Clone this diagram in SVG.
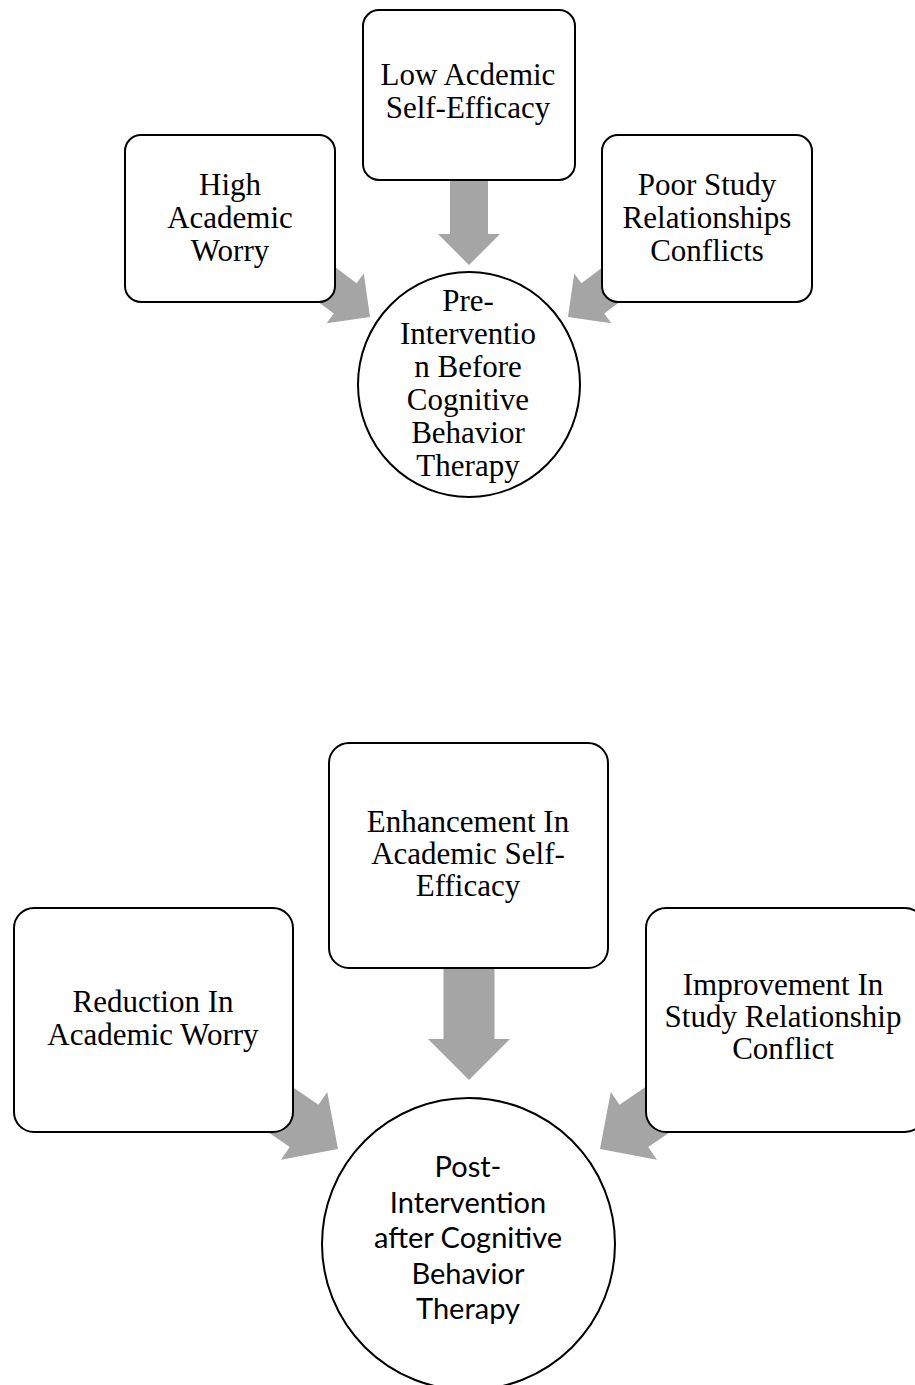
<svg xmlns="http://www.w3.org/2000/svg" width="915" height="1385" viewBox="0 0 915 1385">
<style>
.box{fill:#fff;stroke:#000;stroke-width:2}
.arrow{fill:#a5a5a5;stroke:none}
.serif{font-family:"Liberation Serif","Times New Roman",serif;font-size:31px;fill:#000;text-anchor:middle}
.sans{font-family:Lato,"Liberation Sans",sans-serif;font-size:29px;fill:#000;text-anchor:middle}
</style>
<defs>
<polygon id="arrS" points="0,0 -31,-31 -31,-19 -85,-19 -85,19 -31,19 -31,31"/>
<polygon id="arrL" points="0,0 -41,-41 -41,-25.5 -112,-25.5 -112,25.5 -41,25.5 -41,41"/>
</defs>
<rect width="915" height="1385" fill="#fff"/>
<g id="connectors" class="arrow">
<use href="#arrS" transform="translate(469,265) rotate(90)"/>
<use href="#arrS" transform="translate(370,317) rotate(36.87)"/>
<use href="#arrS" transform="translate(568,317) rotate(143.13)"/>
<use href="#arrL" transform="translate(469,1080) rotate(90)"/>
<use href="#arrL" transform="translate(338,1149) rotate(34.3)"/>
<use href="#arrL" transform="translate(600,1149) rotate(145.7)"/>
</g>
<g id="low-self-efficacy">
<rect class="box" x="363" y="10" width="212" height="170" rx="16"/>
<text class="serif"><tspan x="468" y="85">Low Acdemic</tspan><tspan x="468" y="118">Self-Efficacy</tspan></text>
</g>
<g id="high-worry">
<rect class="box" x="125" y="135" width="210" height="167" rx="16"/>
<text class="serif"><tspan x="230" y="195">High</tspan><tspan x="230" y="228">Academic</tspan><tspan x="230" y="261">Worry</tspan></text>
</g>
<g id="poor-study">
<rect class="box" x="602" y="135" width="210" height="167" rx="16"/>
<text class="serif"><tspan x="707" y="195">Poor Study</tspan><tspan x="707" y="228">Relationships</tspan><tspan x="707" y="261">Conflicts</tspan></text>
</g>
<g id="pre-intervention">
<ellipse class="box" cx="469" cy="384.5" rx="111" ry="112.5"/>
<text class="serif"><tspan x="468" y="311">Pre-</tspan><tspan x="468" y="344">Interventio</tspan><tspan x="468" y="377">n Before</tspan><tspan x="468" y="410">Cognitive</tspan><tspan x="468" y="443">Behavior</tspan><tspan x="468" y="476">Therapy</tspan></text>
</g>
<g id="enhancement">
<rect class="box" x="329" y="743" width="279" height="225" rx="20"/>
<text class="serif"><tspan x="468" y="832">Enhancement In</tspan><tspan x="468" y="864">Academic Self-</tspan><tspan x="468" y="896">Efficacy</tspan></text>
</g>
<g id="reduction">
<rect class="box" x="14" y="908" width="279" height="224" rx="20"/>
<text class="serif"><tspan x="153" y="1012">Reduction In</tspan><tspan x="153" y="1045">Academic Worry</tspan></text>
</g>
<g id="improvement">
<rect class="box" x="646" y="908" width="279" height="224" rx="20"/>
<text class="serif"><tspan x="783" y="995">Improvement In</tspan><tspan x="783" y="1027">Study Relationship</tspan><tspan x="783" y="1059">Conflict</tspan></text>
</g>
<g id="post-intervention">
<ellipse class="box" cx="468.5" cy="1244" rx="146.5" ry="146"/>
<text class="sans"><tspan x="468" y="1177">Post-</tspan><tspan x="468" y="1213">Intervention</tspan><tspan x="468" y="1248">after Cognitive</tspan><tspan x="468" y="1284">Behavior</tspan><tspan x="468" y="1319">Therapy</tspan></text>
</g>
</svg>
